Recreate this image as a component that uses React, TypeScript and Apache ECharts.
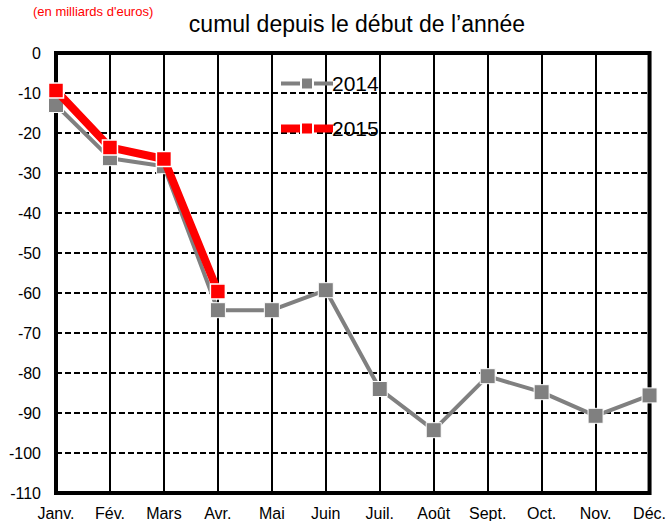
import React, { useEffect, useRef } from "react";
import * as echarts from "echarts";

const months = ["Janv.", "Fév.", "Mars", "Avr.", "Mai", "Juin", "Juil.", "Août", "Sept.", "Oct.", "Nov.", "Déc."];
const values2014 = [-13, -26.3, -28.3, -64.3, -64.3, -59.3, -84, -94.3, -80.8, -84.8, -90.7, -85.6];
const values2015 = [-9.4, -23.6, -26.5, -59.6, null, null, null, null, null, null, null, null];
const yTicks = { min: -110, max: 0, interval: 10 };

const FONT = "'Liberation Sans Narrow', 'Arial Narrow', 'Liberation Sans', Arial, sans-serif";

export default function App() {
  const ref = useRef<HTMLDivElement>(null);
  useEffect(() => {
    if (!ref.current) return;
    const chart = echarts.init(ref.current, null, { renderer: "svg" });
    chart.setOption({
      animation: false,
      backgroundColor: "#ffffff",
      title: [
        {
          text: "(en milliards d'euros)",
          left: 28,
          top: 0,
          textStyle: { color: "#ff0000", fontFamily: FONT, fontSize: 13, fontWeight: "normal" },
        },
        {
          text: "cumul depuis le début de l’année",
          left: 352,
          textAlign: "center",
          top: 7,
          textStyle: { color: "#000", fontFamily: FONT, fontSize: 23, fontWeight: "normal" },
        },
      ],
      legend: {
        orient: "vertical",
        left: 272,
        top: 68,
        itemWidth: 52,
        itemHeight: 15,
        itemGap: 24,
        textStyle: { fontFamily: FONT, fontSize: 21, color: "#000", padding: [0, 0, 0, -6] },
        data: [
          { name: "2014", lineStyle: { width: 4, color: "#808080" } },
          { name: "2015", lineStyle: { width: 8, color: "#ff0000" } },
        ],
      },
      grid: {
        left: 56,
        right: 14,
        top: 53,
        bottom: 28,
        show: true,
        borderColor: "#000",
        borderWidth: 4,
        backgroundColor: "transparent",
      },
      xAxis: {
        type: "category",
        data: months,
        boundaryGap: false,
        axisLine: { show: false },
        axisTick: { show: false },
        axisLabel: { fontFamily: FONT, fontSize: 16, color: "#000", margin: 12, interval: 0 },
        splitLine: { show: true, lineStyle: { color: "#000", width: 2, type: "solid" } },
      },
      yAxis: {
        type: "value",
        min: yTicks.min,
        max: yTicks.max,
        interval: yTicks.interval,
        axisLine: { show: false },
        axisTick: { show: false },
        axisLabel: { fontFamily: FONT, fontSize: 16, color: "#000", margin: 15 },
        splitLine: { show: true, lineStyle: { color: "#000", width: 2, type: [6, 3] } },
      },
      series: [
        {
          name: "2014",
          type: "line",
          data: values2014,
          symbol: "rect",
          symbolSize: 15,
          lineStyle: { color: "#808080", width: 4 },
          itemStyle: { color: "#808080", borderColor: "#ffffff", borderWidth: 1 },
          z: 3,
        },
        {
          name: "2015",
          type: "line",
          data: values2015,
          symbol: "rect",
          symbolSize: 15,
          lineStyle: { color: "#ff0000", width: 8 },
          itemStyle: { color: "#ff0000", borderColor: "#ffffff", borderWidth: 1.5 },
          z: 4,
        },
      ],
    });
    return () => chart.dispose();
  }, []);
  return <div ref={ref} style={{ width: 669, height: 521, position: "absolute", left: 0, top: 0 }} />;
}
